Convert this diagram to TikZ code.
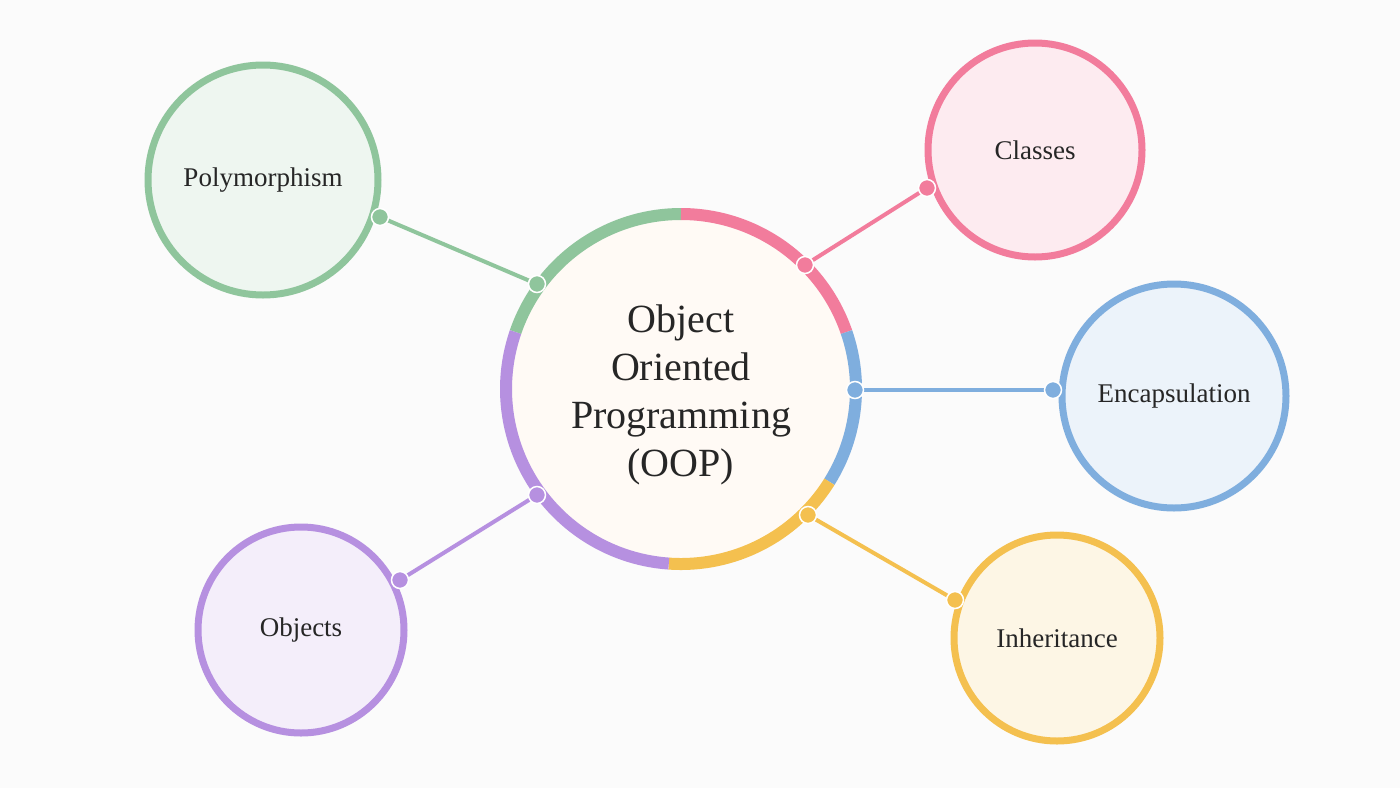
\documentclass[tikz,border=0pt]{standalone}
\usepackage{fontspec}
\setmainfont{Liberation Serif}
\begin{document}
\begin{tikzpicture}[x=1pt,y=-1pt,
  sat/.style={circle,line width=7pt,font=\fontsize{27}{30}\selectfont,text=black!85},
  dot/.style={circle,fill=#1,draw=white,line width=1.5pt,inner sep=0pt,minimum size=17pt},
  con/.style={line width=4pt,draw=#1}]
\definecolor{cg}{HTML}{8FC59C}\definecolor{cp}{HTML}{F27C9C}
\definecolor{cb}{HTML}{7FAEDE}\definecolor{cy}{HTML}{F4C04F}
\definecolor{cv}{HTML}{B690E0}
\fill[white!97!gray] (0,0) rectangle (1400,788);
\useasboundingbox (0,0) rectangle (1400,788);
% central
\node[circle,fill=orange!4,minimum size=350pt,inner sep=0pt] (c) at (681,389) {};
\begin{scope}[line width=12pt,y=1pt]
\def\R{175}
\draw[cg] (681,-389) ++(161:\R) arc (161:90:\R);
\draw[cp] (681,-389) ++(90:\R) arc (90:19:\R);
\draw[cb] (681,-389) ++(19:\R) arc (19:-32:\R);
\draw[cy] (681,-389) ++(-32:\R) arc (-32:-94:\R);
\draw[cv] (681,-389) ++(-94:\R) arc (-94:-199:\R);
\end{scope}
\node[align=center,font=\fontsize{40}{48}\selectfont,text=black!85] at (681,395) {Object\\Oriented\\Programming\\(OOP)};
% satellites
\node[sat,draw=cg,fill=cg!15,minimum size=230pt] (poly) at (263,180) {Polymorphism};
\node[sat,draw=cp,fill=cp!15,minimum size=214pt] (cls) at (1035,150) {Classes};
\node[sat,draw=cb,fill=cb!15,minimum size=224pt] (enc) at (1174,396) {Encapsulation};
\node[sat,draw=cy,fill=cy!15,minimum size=206pt] (inh) at (1057,638) {Inheritance};
\node[sat,draw=cv,fill=cv!15,minimum size=206pt] (obj) at (301,630) {Objects};
% connectors
\coordinate (p1) at (380,217); \coordinate (p2) at (537,284);
\coordinate (k1) at (927,188); \coordinate (k2) at (805,265);
\coordinate (e1) at (1053,390); \coordinate (e2) at (855,390);
\coordinate (i1) at (955,600); \coordinate (i2) at (808,515);
\coordinate (o1) at (400,580); \coordinate (o2) at (537,495);
\draw[con=cg] (p1) -- (p2); \draw[con=cp] (k1) -- (k2);
\draw[con=cb] (e1) -- (e2); \draw[con=cy] (i1) -- (i2);
\draw[con=cv] (o1) -- (o2);
\foreach \a/\col in {p1/cg,p2/cg,k1/cp,k2/cp,e1/cb,e2/cb,i1/cy,i2/cy,o1/cv,o2/cv}
  \node[dot=\col] (d\a) at (\a) {};
\end{tikzpicture}
\end{document}
